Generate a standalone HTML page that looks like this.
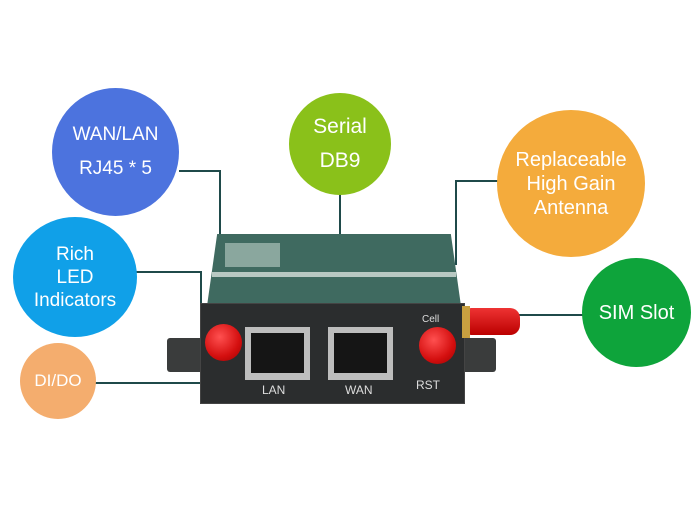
<!DOCTYPE html><html><head><style>
body{margin:0;width:700px;height:525px;background:#fff;position:relative;overflow:hidden;font-family:"Liberation Sans",sans-serif}
.c{position:absolute;border-radius:50%;color:#fff;display:flex;flex-direction:column;align-items:center;justify-content:center;text-align:center;line-height:1.2}
.l{position:absolute;background:#1f4a4a}
.a{position:absolute;border-radius:50%;background:radial-gradient(circle at 40% 35%,#ff5050,#d40f0f 60%,#9a0000);}
</style></head><body>
<div class="l" style="left:179px;top:170px;width:42px;height:2px"></div>
<div class="l" style="left:219px;top:170px;width:2px;height:72px"></div>
<div class="l" style="left:339px;top:194px;width:2px;height:42px"></div>
<div class="l" style="left:455px;top:180px;width:44px;height:2px"></div>
<div class="l" style="left:455px;top:180px;width:2px;height:85px"></div>
<div class="l" style="left:136px;top:271px;width:65px;height:2px"></div>
<div class="l" style="left:200px;top:271px;width:2px;height:33px"></div>
<div class="l" style="left:518px;top:314px;width:66px;height:2px"></div>
<div class="l" style="left:94px;top:382px;width:108px;height:2px"></div>

<div class="c" style="left:52px;top:88px;width:127px;height:128px;background:#4c73de;font-size:19px;line-height:34px">WAN/LAN<br>RJ45 * 5</div>
<div class="c" style="left:289px;top:93px;width:102px;height:102px;background:#8ac11a;font-size:21px;line-height:34px">Serial<br>DB9</div>
<div class="c" style="left:497px;top:110px;width:148px;height:147px;background:#f4ab3c;font-size:20px;line-height:24px">Replaceable<br>High Gain<br>Antenna</div>
<div class="c" style="left:13px;top:217px;width:124px;height:120px;background:#10a0e8;font-size:19px;line-height:23px">Rich<br>LED<br>Indicators</div>
<div class="c" style="left:582px;top:258px;width:109px;height:109px;background:#0ea43b;font-size:20px">SIM Slot</div>
<div class="c" style="left:20px;top:343px;width:76px;height:76px;background:#f4ad6e;font-size:17px">DI/DO</div>

<!-- router -->
<div style="position:absolute;left:167px;top:338px;width:40px;height:34px;background:#3a3c3c;border-radius:3px"></div>
<div style="position:absolute;left:456px;top:338px;width:40px;height:34px;background:#3a3c3c;border-radius:3px"></div>
<div style="position:absolute;left:207px;top:234px;width:254px;height:72px;background:#3f6a60;clip-path:polygon(4% 0,96% 0,100% 100%,0 100%)"></div>
<div style="position:absolute;left:225px;top:243px;width:55px;height:24px;background:#8aa79e"></div>
<div style="position:absolute;left:212px;top:272px;width:244px;height:5px;background:#b8c8c2"></div>
<div style="position:absolute;left:200px;top:303px;width:263px;height:99px;background:#2b2d2e;border:1px solid #444"></div>
<div style="position:absolute;left:245px;top:327px;width:65px;height:53px;background:#bdbdbd"></div>
<div style="position:absolute;left:251px;top:333px;width:53px;height:40px;background:#151515"></div>
<div style="position:absolute;left:328px;top:327px;width:65px;height:53px;background:#bdbdbd"></div>
<div style="position:absolute;left:334px;top:333px;width:53px;height:40px;background:#151515"></div>
<div style="position:absolute;left:262px;top:383px;color:#ddd;font-size:12px">LAN</div>
<div style="position:absolute;left:345px;top:383px;color:#ddd;font-size:12px">WAN</div>
<div style="position:absolute;left:416px;top:378px;color:#ddd;font-size:12px">RST</div>
<div style="position:absolute;left:422px;top:314px;color:#ddd;font-size:10px">Cell</div>
<div style="position:absolute;left:468px;top:308px;width:52px;height:27px;background:linear-gradient(#e33,#b00);border-radius:3px 10px 10px 3px"></div>
<div style="position:absolute;left:462px;top:306px;width:8px;height:32px;background:#c8a040"></div>
<div class="a" style="left:205px;top:324px;width:37px;height:37px"></div>
<div class="a" style="left:419px;top:327px;width:37px;height:37px"></div>
</body></html>
